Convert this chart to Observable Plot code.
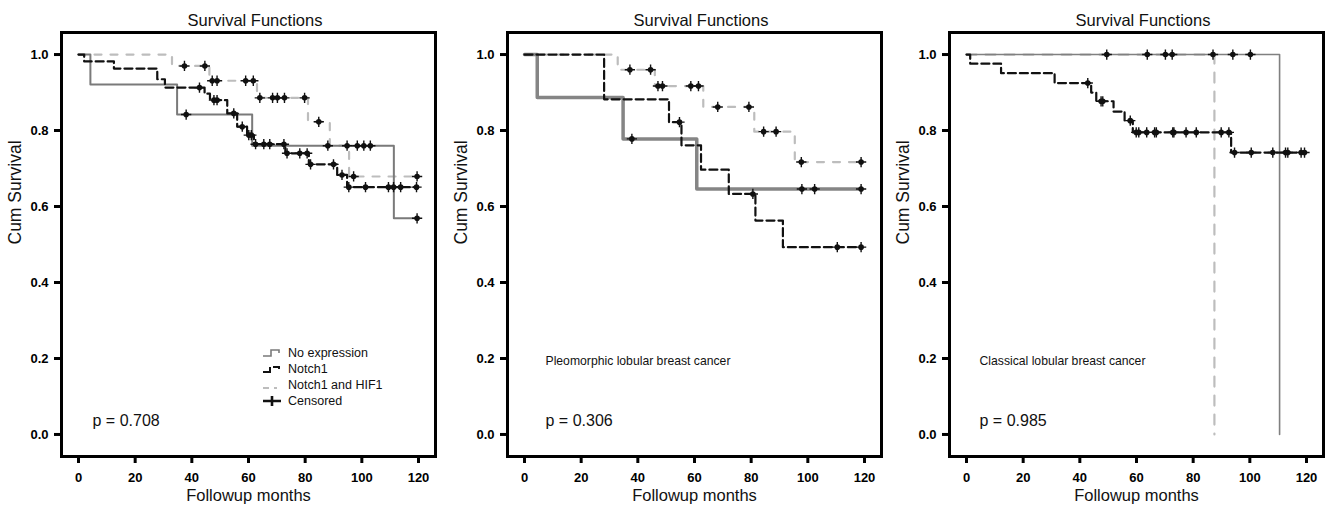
<!DOCTYPE html>
<html><head><meta charset="utf-8">
<script src="https://cdn.jsdelivr.net/npm/d3@7"></script>
<script src="https://cdn.jsdelivr.net/npm/@observablehq/plot@0.6"></script>
<style>
body{margin:0;background:#fff;font-family:"Liberation Sans",Arial,sans-serif;}
#root{position:relative;width:1326px;height:511px;overflow:hidden;background:#fff;}
.panel{position:absolute;top:0;width:440px;height:511px;}
.title{position:absolute;top:11px;left:155px;width:200px;line-height:18px;text-align:center;font-size:16.5px;color:#111;}
.plotwrap{position:absolute;top:26px;left:0;}
.legend{position:absolute;left:262px;top:345px;font-size:12.5px;color:#111;}
.legend .row{height:16px;display:flex;align-items:center;}
.legend svg{width:22px;height:14px;margin-right:4px;}
</style></head><body><div id="root"></div>
<script>
// ---------- data ----------
const xTicks = [0, 20, 40, 60, 80, 100, 120];
const yTicks = [0, 0.2, 0.4, 0.6, 0.8, 1.0];
const groups = ["No expression", "Notch1", "Notch1 and HIF1"];
const panelTitles = ["Survival Functions", "Survival Functions", "Survival Functions"];
const pValues = ["p = 0.708", "p = 0.306", "p = 0.985"];
const subtitles = ["", "Pleomorphic lobular breast cancer", "Classical lobular breast cancer"];
const xLabel = "Followup months";
const yLabel = "Cum Survival";

// Panel 1 (all)
const p1NoneT = [0, 4.2, 34.8, 61.3, 111.3, 119.5];
const p1NoneS = [1, 0.921, 0.842, 0.760, 0.569, 0.569];
const p1NoneC = [38, 88, 94.8, 98.4, 100.7, 103, 119.5];
const p1NotchT = [0, 2, 12.5, 27.8, 30.5, 44.5, 46.4, 52.5, 56, 59.5, 61.9, 73, 81.3, 91.3, 94.8, 119.5];
const p1NotchS = [1, 0.982, 0.963, 0.935, 0.913, 0.897, 0.88, 0.845, 0.81, 0.788, 0.764, 0.74, 0.711, 0.683, 0.651, 0.651];
const p1NotchC = [42.7, 47.8, 48.9, 54.8, 57.8, 60.1, 61, 62.5, 65.4, 67.5, 72.5, 73.6, 78.1, 80.7, 81.9, 90, 93, 95.4, 101.3, 109.4, 111.2, 113.7, 119.3];
const p1HifT = [0, 33, 46.2, 63, 81, 88.7, 95.5, 119.5];
const p1HifS = [1, 0.970, 0.931, 0.886, 0.823, 0.760, 0.679, 0.679];
const p1HifC = [37.4, 44.6, 47.2, 48.9, 59, 61.7, 64, 68.5, 70.2, 72.7, 79.8, 84.8, 97.1, 119.5];

// Panel 2 (pleomorphic)
const p2NoneT = [0, 4.5, 34.8, 60.8, 118.8];
const p2NoneS = [1, 0.887, 0.778, 0.646, 0.646];
const p2NoneC = [37.9, 97.9, 102.4, 118.8];
const p2NotchT = [0, 28.1, 51, 55.4, 62.3, 72.1, 81.5, 91.2, 118.8];
const p2NotchS = [1, 0.882, 0.822, 0.761, 0.697, 0.633, 0.563, 0.493, 0.493];
const p2NotchC = [54.7, 80.6, 110.4, 118.8];
const p2HifT = [0, 32.9, 46, 63.1, 81.1, 95.4, 118.8];
const p2HifS = [1, 0.960, 0.917, 0.862, 0.797, 0.717, 0.717];
const p2HifC = [37.2, 44.5, 47.1, 48.7, 58.7, 61.4, 68.2, 79.2, 84.4, 88.8, 97.7, 118.8];

// Panel 3 (classical)
const p3NoneT = [0, 110.5];
const p3NoneS = [1, 0];
const p3NoneC = [63.8, 94, 100.2];
const p3NotchT = [0, 1.3, 12.2, 31.1, 44, 45.8, 51.9, 55.8, 58.7, 93.4, 119.3];
const p3NotchS = [1, 0.976, 0.951, 0.925, 0.9, 0.877, 0.85, 0.826, 0.795, 0.742, 0.742];
const p3NotchC = [42.8, 47.5, 48.1, 57.8, 59.9, 60.8, 63.6, 66.4, 67, 72.8, 73.2, 77.5, 81.1, 89.9, 92.6, 94.6, 100.5, 108.1, 112.6, 113.4, 118.1, 119.3];
const p3HifT = [0, 87.5];
const p3HifS = [1, 0];
const p3HifC = [49.5, 70.2, 72.6, 87];

// ---------- build ----------
function stepAt(ts, ss, t) { let v = ss[0]; for (let i = 0; i < ts.length; i++) if (ts[i] <= t) v = ss[i]; return v; }
function curve(ts, ss, g) { return ts.map((t, i) => ({t, s: ss[i], g})); }
function cens(ts, ss, cs, g) { return cs.map(t => ({t, s: stepAt(ts, ss, t), g})); }

const panels = [
  {none: [p1NoneT, p1NoneS, p1NoneC], notch: [p1NotchT, p1NotchS, p1NotchC], hif: [p1HifT, p1HifS, p1HifC], noneW: 2, noneC: "#7a7a7a", dx: 31},
  {none: [p2NoneT, p2NoneS, p2NoneC], notch: [p2NotchT, p2NotchS, p2NotchC], hif: [p2HifT, p2HifS, p2HifC], noneW: 3.5, noneC: "#858585", dx: 38},
  {none: [p3NoneT, p3NoneS, p3NoneC], notch: [p3NotchT, p3NotchS, p3NotchC], hif: [p3HifT, p3HifS, p3HifC], noneW: 1.6, noneC: "#808080", dx: 30}
];
const panelLefts = [0, 446, 888];
const root = document.getElementById("root");

panels.forEach((P, k) => {
  const div = document.createElement("div");
  div.className = "panel";
  div.style.left = panelLefts[k] + "px";
  const title = document.createElement("div");
  title.className = "title";
  title.textContent = panelTitles[k];
  div.appendChild(title);

  const noneLine = curve(P.none[0], P.none[1], groups[0]);
  const notchLine = curve(P.notch[0], P.notch[1], groups[1]);
  const hifLine = curve(P.hif[0], P.hif[1], groups[2]);
  const censored = [
    ...cens(P.none[0], P.none[1], P.none[2], groups[0]),
    ...cens(P.notch[0], P.notch[1], P.notch[2], groups[1]),
    ...cens(P.hif[0], P.hif[1], P.hif[2], groups[2])
  ];

  const marks = [
    Plot.line(hifLine, {x: "t", y: "s", curve: "step-after", stroke: "#bdbdbd", strokeWidth: 2.2, strokeDasharray: k === 2 ? "10,9" : "7,9"}),
    Plot.line(noneLine, {x: "t", y: "s", curve: "step-after", stroke: P.noneC, strokeWidth: P.noneW}),
    Plot.line(notchLine, {x: "t", y: "s", curve: "step-after", stroke: "#111", strokeWidth: 2.2, strokeDasharray: "8,4"}),
    Plot.dot(censored, {x: "t", y: "s", r: 2.8, fill: "#111", stroke: "none"}),
    Plot.dot(censored, {x: "t", y: "s", symbol: "plus", r: 3.4, stroke: "#111", strokeWidth: 1.4, fill: "none"}),
    Plot.frame({stroke: "#000", strokeWidth: 3}),
    Plot.axisX(xTicks, {label: null, tickSize: 7, tickPadding: 9, strokeWidth: 3}),
    Plot.axisY(yTicks, {label: null, tickSize: 7, tickPadding: 6, strokeWidth: 3, tickFormat: d3.format(".1f")}),
    Plot.text([xLabel], {text: d => d, frameAnchor: "bottom", dy: 44, fontSize: 16.5, fill: "#111"}),
    Plot.text([yLabel], {text: d => d, frameAnchor: "left", dx: -46, rotate: -90, fontSize: 17.5, fill: "#111"}),
    Plot.text([pValues[k]], {text: d => d, frameAnchor: "bottom-left", dx: P.dx, dy: -31, textAnchor: "start", fontSize: 16, fill: "#111"})
  ];
  if (subtitles[k]) marks.push(Plot.text([subtitles[k]], {text: d => d, frameAnchor: "bottom-left", dx: P.dx, dy: -92, textAnchor: "start", fontSize: 12.2, fill: "#111"}));

  const chart = Plot.plot({
    width: 440, height: 485,
    marginLeft: 61, marginRight: 5, marginTop: 6, marginBottom: 55,
    style: {fontFamily: '"Liberation Sans", Arial, sans-serif', background: "transparent", overflow: "visible"},
    x: {domain: [-6, 126], label: null},
    y: {domain: [-0.058, 1.058], label: null},
    marks
  });
  // bold, larger tick labels
  d3.select(chart).selectAll("text")
    .filter(function () { return /^[0-9.]+$/.test(this.textContent.trim()); })
    .style("font-weight", "bold").style("font-size", "13px");
  const wrap = document.createElement("div");
  wrap.className = "plotwrap";
  wrap.appendChild(chart);
  div.appendChild(wrap);

  if (k === 0) {
    const lg = document.createElement("div");
    lg.className = "legend";
    const sw = [
      '<path d="M1,10 H9 V4 H17 V7" fill="none" stroke="#7a7a7a" stroke-width="1.6"/>',
      '<path d="M1,10 H8 V5 M11,5 H17 V7" fill="none" stroke="#111" stroke-width="2"/>',
      '<path d="M1,10 H7 M12,10 H15" fill="none" stroke="#bdbdbd" stroke-width="2"/>',
      '<path d="M1,7 H19 M10,2 V12" fill="none" stroke="#111" stroke-width="2.6"/>'
    ];
    const labels = [...groups, "Censored"];
    lg.innerHTML = labels.map((l, i) => `<div class="row"><svg viewBox="0 0 22 14">${sw[i]}</svg><span>${l}</span></div>`).join("");
    div.appendChild(lg);
  }
  root.appendChild(div);
});
</script></body></html>
